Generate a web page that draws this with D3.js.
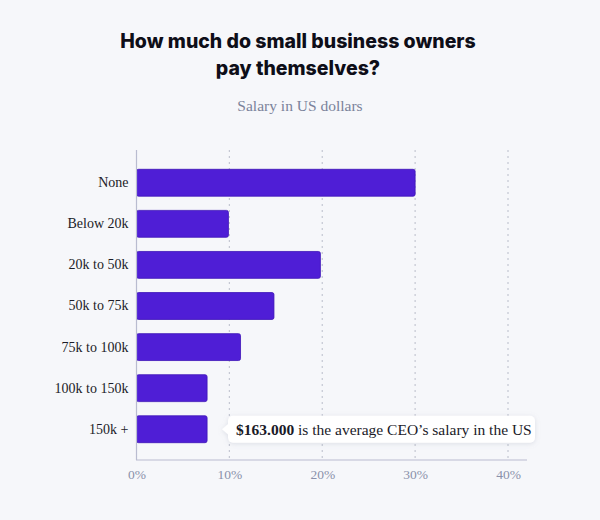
<!DOCTYPE html>
<html><head><meta charset="utf-8">
<script src="https://cdn.jsdelivr.net/npm/d3@7"></script>
<style>
html,body{margin:0;padding:0;background:#f6f7fa;}
svg{display:block;}
</style></head>
<body>
<svg id="chart" width="600" height="520"></svg>
<script>
const categories = ["None","Below 20k","20k to 50k","50k to 75k","75k to 100k","100k to 150k","150k +"];
const values = [30, 9.9, 19.8, 14.8, 11.2, 7.6, 7.6];
const xTicks = [0, 10, 20, 30, 40];
const titleLines = ["How much do small business owners","pay themselves?"];
const subtitle = "Salary in US dollars";
const calloutBold = "$163.000";
const calloutRest = " is the average CEO\u2019s salary in the US";

const svg = d3.select("#chart");
const serif = "'Liberation Serif','DejaVu Serif',serif";
const sans = "Inter,'Noto Sans',sans-serif";

svg.append("rect").attr("width",600).attr("height",520).attr("fill","#f6f7fa");

const x = d3.scaleLinear().domain([0,40]).range([136.5,508]);
const y = d3.scaleBand().domain(categories).range([150,462]).paddingInner(0.345).paddingOuter(0.47);

// title
svg.selectAll("text.title").data(titleLines).join("text")
  .attr("class","title").attr("x",298).attr("y",(d,i)=>48+i*27)
  .attr("text-anchor","middle").attr("font-family",sans).attr("font-weight",800)
  .attr("font-size",19.5).attr("fill","#0e0e18").text(d=>d);

svg.append("text").attr("x",300).attr("y",111).attr("text-anchor","middle")
  .attr("font-family",serif).attr("font-size",15.5).attr("fill","#7b839b").text(subtitle);

// grid
svg.append("g").selectAll("line").data(xTicks.filter(d=>d>0)).join("line")
  .attr("x1",d=>x(d)).attr("x2",d=>x(d)).attr("y1",150).attr("y2",460)
  .attr("stroke","#c4c7d2").attr("stroke-width",1.2).attr("stroke-dasharray","2,4");

// bars
svg.append("g").selectAll("rect").data(categories).join("rect")
  .attr("x",x(0)).attr("y",d=>y(d))
  .attr("width",(d,i)=>x(values[i])-x(0)).attr("height",y.bandwidth())
  .attr("rx",2).attr("fill","#4f1ed6").attr("stroke","#3d14b8").attr("stroke-width",0.8);

// axes lines
svg.append("line").attr("x1",136.5).attr("x2",136.5).attr("y1",150).attr("y2",460)
  .attr("stroke","#b9bcd0").attr("stroke-width",1.2);
svg.append("line").attr("x1",136).attr("x2",527).attr("y1",460).attr("y2",460)
  .attr("stroke","#b9bcd0").attr("stroke-width",1.2);

// y labels
const yAxis = d3.axisLeft(y).tickSize(0).tickPadding(8);
const gy = svg.append("g").attr("transform","translate(136.5,0)").call(yAxis);
gy.select(".domain").remove();
gy.selectAll("text").attr("font-family",serif).attr("font-size",14).attr("fill","#1c1c28");

// x labels
const xAxis = d3.axisBottom(x).tickValues(xTicks).tickFormat(d=>d+"%").tickSize(0).tickPadding(9.5);
const gx = svg.append("g").attr("transform","translate(0,460)").call(xAxis);
gx.select(".domain").remove();
gx.selectAll("text").attr("font-family",serif).attr("font-size",13.5).attr("fill","#8a91aa");

// callout
const defs = svg.append("defs");
const f = defs.append("filter").attr("id","sh").attr("x","-10%").attr("y","-50%").attr("width","120%").attr("height","200%");
f.append("feDropShadow").attr("dx",0).attr("dy",1).attr("stdDeviation",2.5).attr("flood-color","#8890a8").attr("flood-opacity",0.25);
const last = categories[categories.length-1];
const cy = y(last) + y.bandwidth()/2;
const cx0 = 228, cw = 307, ch = 27;
const cg = svg.append("g").attr("filter","url(#sh)");
cg.append("rect").attr("x",cx0).attr("y",cy-ch/2).attr("width",cw).attr("height",ch).attr("rx",5).attr("fill","#fff");
cg.append("path").attr("d",`M${cx0+1},${cy-6} L${cx0-6},${cy} L${cx0+1},${cy+6} Z`).attr("fill","#fff");
const ct = svg.append("text").attr("x",cx0+8).attr("y",cy+5.5).attr("font-family",serif).attr("font-size",15.5).attr("fill","#1a1a28");
ct.append("tspan").attr("font-weight",700).text(calloutBold);
ct.append("tspan").text(calloutRest);
</script>
</body></html>
